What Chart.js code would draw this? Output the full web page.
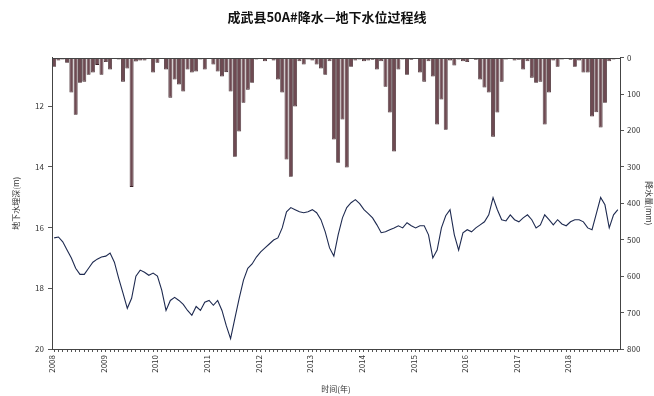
<!DOCTYPE html>
<html>
<head>
<meta charset="utf-8">
<script src="https://cdn.jsdelivr.net/npm/chart.js@4/dist/chart.umd.min.js"></script>
<style>
  html, body { margin: 0; padding: 0; background: #fff; }
  #wrap { width: 654px; height: 396px; }
</style>
</head>
<body>
<div id="wrap"><canvas id="c" width="654" height="396"></canvas></div>
<script>
// Year labels along the time axis (one per 12 months)
const yearLabels = ['2008','2009','2010','2011','2012','2013','2014','2015','2016','2017','2018'];

// Monthly precipitation (mm), Jan 2008 - Dec 2018
const precipitation = [
  25, 8, 5, 14, 96, 157, 69, 66, 47, 41, 20, 47,
  12, 33, 3, 5, 66, 30, 355, 11, 8, 8, 3, 41,
  14, 3, 33, 110, 60, 74, 93, 33, 41, 38, 5, 33,
  4, 19, 38, 52, 40, 93, 272, 203, 124, 88, 69, 5,
  3, 10, 4, 8, 60, 96, 280, 327, 134, 10, 19, 5,
  8, 19, 30, 47, 10, 225, 289, 170, 302, 25, 8, 5,
  10, 8, 6, 33, 10, 80, 151, 258, 33, 5, 47, 6,
  4, 41, 66, 10, 52, 184, 115, 198, 8, 22, 5, 10,
  12, 4, 6, 60, 82, 96, 217, 151, 66, 5, 4, 8,
  6, 33, 10, 55, 69, 66, 184, 96, 8, 25, 5, 4,
  6, 25, 8, 41, 41, 162, 150, 192, 124, 10, 5, 3
];

// Monthly groundwater depth below surface (m), Jan 2008 - Dec 2018
const depth = [
  16.34, 16.31, 16.47, 16.74, 17.00, 17.34, 17.54, 17.54, 17.34, 17.14, 17.04, 16.97,
  16.94, 16.84, 17.14, 17.67, 18.16, 18.66, 18.33, 17.60, 17.40, 17.47, 17.57, 17.50,
  17.60, 18.06, 18.73, 18.40, 18.30, 18.40, 18.53, 18.73, 18.89, 18.60, 18.73, 18.46,
  18.40, 18.56, 18.40, 18.73, 19.23, 19.66, 18.99, 18.33, 17.73, 17.34, 17.20, 16.97,
  16.80, 16.67, 16.54, 16.41, 16.34, 16.01, 15.48, 15.34, 15.41, 15.48, 15.51, 15.48,
  15.41, 15.51, 15.74, 16.14, 16.67, 16.94, 16.24, 15.68, 15.34, 15.18, 15.08, 15.21,
  15.41, 15.54, 15.68, 15.91, 16.17, 16.14, 16.07, 16.01, 15.94, 16.01, 15.84, 15.94,
  16.01, 15.94, 15.94, 16.24, 17.00, 16.74, 16.01, 15.61, 15.41, 16.24, 16.74, 16.17,
  16.07, 16.14, 16.01, 15.91, 15.81, 15.58, 15.01, 15.41, 15.74, 15.78, 15.58, 15.74,
  15.81, 15.68, 15.58, 15.74, 16.01, 15.91, 15.58, 15.74, 15.91, 15.74, 15.88, 15.94,
  15.81, 15.74, 15.74, 15.81, 16.01, 16.07, 15.54, 15.01, 15.25, 16.01, 15.58, 15.41
];

const depthTicks = [12, 14, 16, 18, 20];

const CJK = '"Noto Sans CJK SC", "Noto Sans", sans-serif';
const monthCount = yearLabels.length * 12;

// Frame around the plotting area
const framePlugin = {
  id: 'frame',
  afterDraw(chart) {
    const { ctx, chartArea: a } = chart;
    ctx.save();
    ctx.strokeStyle = '#444';
    ctx.lineWidth = 1;
    ctx.strokeRect(Math.round(a.left) + 0.5, Math.round(a.top) + 0.5,
                   Math.round(a.right - a.left), Math.round(a.bottom - a.top));
    ctx.restore();
  }
};

const tickGrid = (len) => ({
  display: true,
  drawOnChartArea: false,
  drawTicks: true,
  tickLength: len,
  color: '#555',
  lineWidth: 1
});

new Chart(document.getElementById('c'), {
  type: 'bar',
  data: {
    datasets: [
      {
        type: 'line',
        label: '地下水埋深',
        data: depth.map((v, i) => ({ x: i + 0.5, y: v })),
        yAxisID: 'yDepth',
        borderColor: '#1e2a50',
        borderWidth: 1.1,
        pointRadius: 0,
        tension: 0,
        fill: false,
        order: 0
      },
      {
        type: 'bar',
        label: '降水量',
        data: precipitation.map((v, i) => ({ x: i + 0.5, y: v })),
        yAxisID: 'yRain',
        backgroundColor: '#6e4a52',
        borderColor: '#3a2026',
        borderWidth: 0.8,
        barPercentage: 0.92,
        categoryPercentage: 1.0,
        order: 1
      }
    ]
  },
  options: {
    responsive: false,
    animation: false,
    layout: { padding: { left: 0, right: 0, top: 0, bottom: 0 } },
    plugins: {
      legend: { display: false },
      tooltip: { enabled: false },
      title: {
        display: true,
        text: '成武县50A#降水—地下水位过程线',
        color: '#111',
        font: { family: CJK, size: 13, weight: 'bold' },
        padding: { top: 9, bottom: 33 }
      }
    },
    scales: {
      x: {
        type: 'linear',
        min: 0,
        max: monthCount,
        offset: false,
        grid: tickGrid(3),
        border: { display: true, color: '#444' },
        ticks: {
          stepSize: 1,
          autoSkip: false,
          minRotation: 90,
          maxRotation: 90,
          padding: 3,
          color: '#333',
          font: { family: CJK, size: 8 },
          callback: (v) => (v % 12 === 0 && v / 12 < yearLabels.length) ? yearLabels[v / 12] : ''
        },
        title: {
          display: true,
          text: '时间(年)',
          color: '#333',
          font: { family: CJK, size: 8 },
          padding: { top: 0, bottom: 2 }
        },
        afterFit(scale) { scale.height = 47; }
      },
      yDepth: {
        type: 'linear',
        position: 'left',
        reverse: true,
        min: 10.4,
        max: 20,
        grid: tickGrid(4),
        border: { display: true, color: '#444' },
        ticks: {
          stepSize: 2,
          padding: 4,
          color: '#333',
          font: { family: CJK, size: 8 }
        },
        afterBuildTicks(axis) {
          axis.ticks = depthTicks.map(v => ({ value: v }));
        },
        title: {
          display: true,
          text: '地下水埋深(m)',
          color: '#333',
          font: { family: CJK, size: 8 },
          padding: { top: 11, bottom: 0 }
        },
        afterFit(scale) { scale.width = 52; }
      },
      yRain: {
        type: 'linear',
        position: 'right',
        reverse: true,
        min: 0,
        max: 800,
        grid: tickGrid(4),
        border: { display: true, color: '#444' },
        ticks: {
          stepSize: 100,
          padding: 3,
          color: '#333',
          font: { family: CJK, size: 8 }
        },
        title: {
          display: true,
          text: '降水量(mm)',
          color: '#333',
          font: { family: CJK, size: 8 },
          padding: { top: 0, bottom: 3 }
        },
        afterFit(scale) { scale.width = 34; }
      }
    }
  },
  plugins: [framePlugin]
});
</script>
</body>
</html>
